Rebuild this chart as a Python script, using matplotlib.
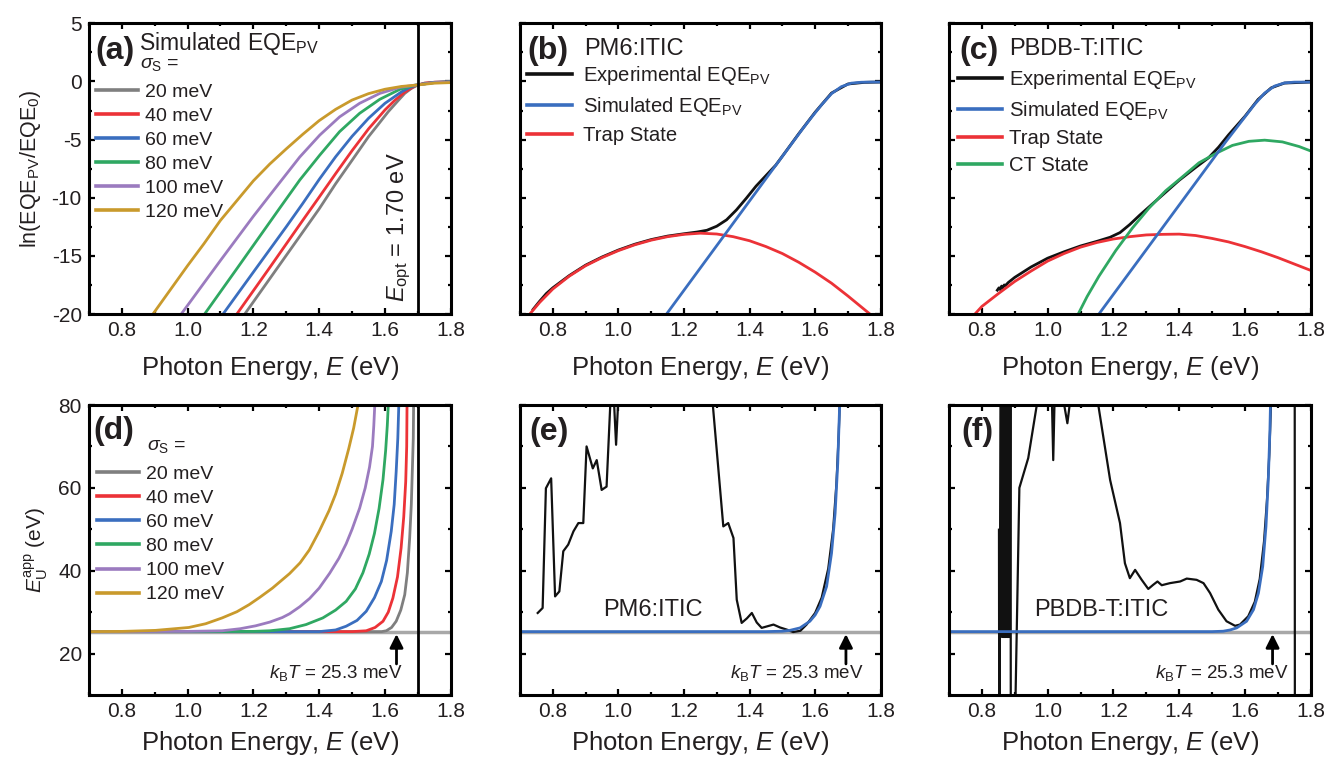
import matplotlib
matplotlib.use('Agg')
import matplotlib.pyplot as plt
from matplotlib.ticker import MultipleLocator, FormatStrFormatter
from matplotlib.lines import Line2D

# ---------------- data ----------------
sigma_labels = ['20 meV', '40 meV', '60 meV', '80 meV', '100 meV', '120 meV']

# panel (a): ln(EQE/EQE0) simulated curves
a20_E = [1.174, 1.25, 1.30, 1.35, 1.40, 1.45, 1.50, 1.55, 1.58, 1.61, 1.64, 1.66, 1.68, 1.70, 1.72, 1.75, 1.80]
a20_y = [-20, -16.96, -14.96, -12.96, -10.96, -8.8, -6.78, -4.75, -3.68, -2.6, -1.65, -1.03, -0.6, -0.3, -0.15, -0.07, -0.03]
a40_E = [1.150, 1.25, 1.35, 1.40, 1.45, 1.50, 1.55, 1.60, 1.63, 1.66, 1.69, 1.72, 1.75, 1.80]
a40_y = [-20, -16.0, -11.95, -9.95, -7.93, -5.95, -4.08, -2.45, -1.62, -0.92, -0.4, -0.15, -0.07, -0.03]
a60_E = [1.108, 1.20, 1.30, 1.35, 1.40, 1.45, 1.50, 1.55, 1.60, 1.65, 1.675, 1.70, 1.75, 1.80]
a60_y = [-20, -16.4, -12.5, -10.5, -8.43, -6.48, -4.72, -3.17, -1.88, -0.9, -0.51, -0.3, -0.08, -0.03]
a80_E = [1.052, 1.15, 1.25, 1.28, 1.341, 1.402, 1.462, 1.523, 1.584, 1.645, 1.693, 1.75, 1.80]
a80_y = [-20, -16.1, -12.1, -10.9, -8.48, -6.33, -4.32, -2.74, -1.54, -0.68, -0.31, -0.1, -0.04]
a100_E = [0.981, 1.10, 1.20, 1.28, 1.341, 1.402, 1.462, 1.523, 1.584, 1.645, 1.693, 1.75, 1.80]
a100_y = [-20, -15.4, -11.6, -8.7, -6.5, -4.61, -3.05, -1.88, -1.03, -0.51, -0.31, -0.1, -0.05]
a120_E = [0.895, 1.00, 1.05, 1.10, 1.15, 1.20, 1.25, 1.30, 1.35, 1.40, 1.45, 1.50, 1.55, 1.60, 1.65, 1.70, 1.75, 1.80]
a120_y = [-20, -15.85, -13.95, -11.95, -10.25, -8.55, -7.1, -5.8, -4.55, -3.37, -2.4, -1.6, -1.05, -0.67, -0.43, -0.3, -0.15, -0.1]
E_opt = 1.70

# panel (b): PM6:ITIC
b_exp_E = [0.74, 0.76, 0.78, 0.80, 0.85, 0.90, 0.95, 1.00, 1.05, 1.10, 1.15, 1.20, 1.24, 1.27, 1.30, 1.33, 1.36,
           1.39, 1.42, 1.45, 1.48, 1.51, 1.55, 1.60, 1.65, 1.70, 1.75, 1.80]
b_exp_y = [-19.6, -18.9, -18.25, -17.75, -16.7, -15.8, -15.1, -14.5, -14.0, -13.6, -13.3, -13.1, -12.95, -12.8,
           -12.45, -11.9, -11.05, -10.05, -9.0, -8.1, -7.2, -6.05, -4.5, -2.65, -1.0, -0.22, -0.08, -0.05]
b_sim_E = [1.147, 1.25, 1.35, 1.45, 1.53, 1.56, 1.59, 1.62, 1.65, 1.68, 1.71, 1.74, 1.77, 1.80]
b_sim_y = [-20, -16.04, -12.2, -8.36, -5.3, -4.15, -3.05, -2.0, -1.05, -0.45, -0.15, -0.07, -0.05, -0.05]
b_trap_E = [0.730, 0.76, 0.80, 0.85, 0.90, 0.95, 1.00, 1.05, 1.10, 1.15, 1.20, 1.25, 1.30, 1.35, 1.40, 1.45,
            1.50, 1.55, 1.60, 1.65, 1.70, 1.767]
b_trap_y = [-20, -19.0, -17.85, -16.75, -15.85, -15.15, -14.55, -14.05, -13.65, -13.35, -13.15, -13.05, -13.12,
            -13.35, -13.7, -14.2, -14.8, -15.55, -16.4, -17.35, -18.45, -20]

# panel (c): PBDB-T:ITIC
c_exp_E = [0.847, 0.852, 0.856, 0.86, 0.864, 0.868, 0.872, 0.88, 0.90, 0.95, 1.00, 1.05, 1.10, 1.15, 1.19, 1.22,
           1.25, 1.28, 1.31, 1.35, 1.40, 1.45, 1.49, 1.52, 1.55, 1.60, 1.64, 1.68, 1.72, 1.80]
c_exp_y = [-17.95, -17.75, -17.9, -17.6, -17.75, -17.5, -17.55, -17.3, -16.85, -15.95, -15.2, -14.65, -14.15,
           -13.75, -13.4, -13.0, -12.3, -11.5, -10.75, -9.75, -8.5, -7.4, -6.55, -5.65, -4.6, -3.0, -1.55, -0.55,
           -0.14, -0.05]
c_sim_E = [1.156, 1.25, 1.35, 1.45, 1.54, 1.57, 1.60, 1.63, 1.66, 1.69, 1.72, 1.75, 1.80]
c_sim_y = [-20, -16.39, -12.55, -8.71, -5.25, -4.15, -3.05, -1.95, -1.0, -0.4, -0.13, -0.06, -0.05]
c_trap_E = [0.779, 0.80, 0.85, 0.90, 0.95, 1.00, 1.05, 1.10, 1.15, 1.20, 1.25, 1.30, 1.35, 1.40, 1.45, 1.50,
            1.55, 1.60, 1.65, 1.70, 1.75, 1.80]
c_trap_y = [-20.0, -19.35, -18.25, -17.2, -16.3, -15.45, -14.8, -14.25, -13.85, -13.55, -13.35, -13.2, -13.15,
            -13.13, -13.25, -13.5, -13.8, -14.2, -14.65, -15.15, -15.7, -16.25]
c_ct_E = [1.093, 1.12, 1.156, 1.207, 1.258, 1.308, 1.359, 1.41, 1.46, 1.511, 1.562, 1.612, 1.66, 1.714, 1.765, 1.80]
c_ct_y = [-20, -18.5, -16.75, -14.55, -12.6, -10.9, -9.4, -8.2, -7.0, -6.2, -5.5, -5.15, -5.05, -5.2, -5.6, -5.98]

# panel (d): apparent Urbach energy of the simulated curves
kT = 25.3
d20_E = [0.70, 1.59, 1.604, 1.62, 1.634, 1.648, 1.660, 1.668, 1.675, 1.680, 1.683, 1.686, 1.687]
d20_y = [25.3, 25.3, 25.5, 26.3, 27.8, 30.5, 34.2, 39.5, 47.9, 56, 63.9, 72, 80]
d40_E = [0.70, 1.50, 1.543, 1.57, 1.594, 1.61, 1.624, 1.638, 1.649, 1.657, 1.663, 1.666, 1.667]
d40_y = [25.3, 25.3, 25.5, 26.3, 27.8, 30.0, 33.4, 38.5, 45.5, 53, 61.5, 70, 80]
d60_E = [0.70, 1.40, 1.45, 1.482, 1.515, 1.543, 1.568, 1.589, 1.605, 1.619, 1.628, 1.634, 1.639, 1.642]
d60_y = [25.3, 25.3, 25.7, 26.6, 28.0, 30.2, 33.5, 37.4, 42.5, 49.5, 56, 63.9, 72, 80]
d80_E = [0.70, 1.20, 1.25, 1.31, 1.36, 1.411, 1.45, 1.482, 1.51, 1.533, 1.552, 1.568, 1.582, 1.594, 1.602,
         1.607, 1.610]
d80_y = [25.3, 25.35, 25.5, 26.0, 27.0, 28.6, 30.5, 32.6, 35.6, 39.5, 44.0, 49.0, 55.0, 62, 69, 75, 80]
d100_E = [0.70, 1.00, 1.105, 1.16, 1.207, 1.25, 1.288, 1.31, 1.341, 1.371, 1.40, 1.432, 1.46, 1.482, 1.50, 1.523,
          1.54, 1.553, 1.562, 1.566, 1.569]
d100_y = [25.3, 25.35, 25.5, 26.0, 26.7, 27.6, 28.7, 29.6, 31.3, 33.3, 35.8, 39.4, 43.0, 46.5, 50, 55.1, 60, 65,
          70, 75, 80]
d120_E = [0.70, 0.80, 0.903, 1.004, 1.055, 1.105, 1.15, 1.187, 1.22, 1.258, 1.31, 1.342, 1.37, 1.40, 1.43, 1.45,
          1.47, 1.49, 1.505, 1.518]
d120_y = [25.3, 25.35, 25.6, 26.3, 27.2, 28.6, 30.1, 31.8, 33.6, 35.8, 39.3, 41.9, 45.0, 49.5, 54.5, 58.5, 63.5,
          69.5, 74.5, 80]
kT_arrow_E = [1.635, 1.694, 1.684]

# panel (e): PM6:ITIC apparent Urbach energy
e_exp_E = [0.754, 0.769, 0.779, 0.795, 0.807, 0.82, 0.832, 0.847, 0.863, 0.878, 0.893, 0.903, 0.922, 0.934,
           0.949, 0.964, 0.981, 0.993, 1.005, 1.05, 1.15, 1.275, 1.32, 1.335, 1.351, 1.361, 1.376, 1.392, 1.407,
           1.422, 1.437, 1.455, 1.473, 1.493, 1.513, 1.533, 1.555, 1.574, 1.60, 1.62, 1.64, 1.655, 1.665, 1.672,
           1.677]
e_exp_y = [29.8, 31.0, 59.9, 62.3, 33.8, 35.0, 44.7, 46.3, 49.5, 51.5, 51.5, 70.0, 64.7, 66.7, 59.5, 60.3, 90,
           70.4, 90, 130, 140, 92, 50.7, 51.5, 47.9, 33.0, 27.4, 28.5, 29.8, 27.5, 26.2, 26.6, 27.0, 26.3, 25.8,
           25.2, 25.5, 27.0, 29.8, 33.5, 40.5, 50, 61, 73, 85]
e_sim_E = [0.70, 1.45, 1.50, 1.523, 1.554, 1.584, 1.60, 1.615, 1.635, 1.65, 1.661, 1.669, 1.674, 1.677]
e_sim_y = [25.3, 25.3, 25.4, 25.6, 26.2, 27.8, 29.3, 31.4, 36.2, 44.2, 53.9, 65.9, 78, 85]

# panel (f): PBDB-T:ITIC apparent Urbach energy
f_exp_E = [0.852, 0.853, 0.859, 0.861, 0.863, 0.865, 0.867, 0.869, 0.871, 0.873, 0.875, 0.877, 0.879, 0.881,
           0.883, 0.885, 0.887, 0.888, 0.899, 0.914, 0.941, 0.967, 0.98, 1.005, 1.017, 1.029, 1.046, 1.060, 1.070,
           1.10, 1.12, 1.154, 1.19, 1.22, 1.235, 1.25, 1.266, 1.286, 1.306, 1.321, 1.334, 1.347, 1.372, 1.403,
           1.423, 1.453, 1.474, 1.494, 1.519, 1.544, 1.57, 1.585, 1.61, 1.63, 1.645, 1.658, 1.667, 1.674, 1.68,
           1.70, 1.751, 1.752]
f_exp_y = [49.9, -20, 150, 24, 150, 24, 150, 24, 150, 24, 150, 24, 150, 24, 150, 24, 150, -20, -5, 60, 67.2, 80,
           120, 110, 66.7, 110, 82, 75.6, 82, 130, 110, 80, 61.9, 51.5, 41.8, 38.2, 40.2, 37.8, 35.6, 36.6, 37.4,
           36.5, 37.0, 37.4, 38.1, 37.8, 37.0, 34.6, 30.6, 27.8, 26.7, 27.0, 29.0, 32.5, 38, 47, 57, 68, 82, 150,
           150, -20]
f_sim_E = [0.70, 1.50, 1.534, 1.555, 1.575, 1.605, 1.626, 1.641, 1.654, 1.664, 1.671, 1.676, 1.679]
f_sim_y = [25.3, 25.3, 25.4, 25.7, 26.2, 27.8, 30.6, 34.6, 41.0, 50.7, 61.9, 74, 85]

# ---------------- style ----------------
plt.rcParams['font.family'] = ['Liberation Sans', 'DejaVu Sans']
plt.rcParams['mathtext.fontset'] = 'custom'
plt.rcParams['mathtext.rm'] = 'Liberation Sans'
plt.rcParams['mathtext.it'] = 'Liberation Sans:italic'
plt.rcParams['mathtext.bf'] = 'Liberation Sans:bold'
plt.rcParams['mathtext.sf'] = 'Liberation Sans'
plt.rcParams['axes.unicode_minus'] = False

TXT = '#231f20'
C_GRAY = '#7f7f7f'
C_RED = '#ec3237'
C_BLUE = '#3a6ebf'
C_GREEN = '#2fa862'
C_PURPLE = '#9b7bbf'
C_GOLD = '#c99a2c'
C_BASE = '#a8a8a8'
C_BLACK = '#111111'
sig_colors = [C_GRAY, C_RED, C_BLUE, C_GREEN, C_PURPLE, C_GOLD]

fig = plt.figure(figsize=(13.28, 7.6), dpi=100)
W, H = 1328.0, 760.0
lefts = [88.8, 520.0, 949.0]
widths = [362.0, 360.7, 361.7]
row_top = [(23.3, 314.0), (405.0, 695.0)]
axes = []
for r in range(2):
    for c in range(3):
        t, b = row_top[r]
        ax = fig.add_axes([lefts[c] / W, 1 - b / H, widths[c] / W, (b - t) / H])
        axes.append(ax)
ax_a, ax_b, ax_c, ax_d, ax_e, ax_f = axes


def style(ax, ylim, ymaj, ymin, ylab=True, xlpad=10):
    ax.set_xlim(0.7, 1.8)
    ax.set_ylim(*ylim)
    ax.xaxis.set_major_locator(MultipleLocator(0.2))
    ax.xaxis.set_minor_locator(MultipleLocator(0.1))
    ax.xaxis.set_major_formatter(FormatStrFormatter('%.1f'))
    ax.yaxis.set_major_locator(MultipleLocator(ymaj))
    ax.yaxis.set_minor_locator(MultipleLocator(ymin))
    ax.tick_params(which='both', direction='in', top=True, right=True, width=1.6,
                   labelsize=15, pad=5, labelcolor=TXT, labelleft=ylab)
    ax.tick_params(which='major', length=4.5)
    ax.tick_params(which='minor', length=2.5)
    for s in ax.spines.values():
        s.set_linewidth(2.2)
    ax.set_xlabel('Photon Energy, $E$ (eV)', fontsize=18.5, color=TXT, labelpad=xlpad)


LW = 2.0
HLW = 2.6
for ax in (ax_a, ax_b, ax_c):
    style(ax, (-20, 5), 5, 2.5, ylab=(ax is ax_a), xlpad=10)
for ax in (ax_d, ax_e, ax_f):
    style(ax, (10, 80), 20, 10, ylab=(ax is ax_d), xlpad=5.5)

# ---- (a)
a_sets = [(a20_E, a20_y), (a40_E, a40_y), (a60_E, a60_y), (a80_E, a80_y), (a100_E, a100_y), (a120_E, a120_y)]
for (ex, ey), col in zip(a_sets, sig_colors):
    ax_a.plot(ex, ey, color=col, lw=LW, solid_capstyle='butt')
ax_a.axvline(E_opt, color='k', lw=2.0)
ax_a.set_ylabel('ln(EQE$_\\mathrm{PV}$/EQE$_0$)', fontsize=15.5, color=TXT, labelpad=6)
ax_a.text(1.645, -12.5, '$E_\\mathrm{opt}$ = 1.70 eV', rotation=90, ha='center', va='center',
          fontsize=17, color=TXT)
ax_a.text(0.017, 0.905, '(a)', transform=ax_a.transAxes, fontsize=23, fontweight='bold',
          ha='left', va='center', color=TXT)
ax_a.text(0.1395, 0.908, 'Simulated EQE$_\\mathrm{PV}$', transform=ax_a.transAxes, fontsize=16.5,
          ha='left', va='baseline', color=TXT)
ax_a.text(0.141, 0.845, '$\\sigma_\\mathrm{S}$ =', transform=ax_a.transAxes, fontsize=14,
          ha='left', va='baseline', color=TXT)
h = [Line2D([], [], color=c, lw=HLW) for c in sig_colors]
ax_a.legend(h, sigma_labels, loc='upper left', bbox_to_anchor=(0.021, 0.795), frameon=False, fontsize=14,
            handlelength=2.15, handletextpad=0.33, labelspacing=0.33, borderpad=0, borderaxespad=0,
            labelcolor=TXT)

# ---- (b)
ax_b.plot(b_exp_E, b_exp_y, color=C_BLACK, lw=LW)
ax_b.plot(b_trap_E, b_trap_y, color=C_RED, lw=LW)
ax_b.plot(b_sim_E, b_sim_y, color=C_BLUE, lw=LW)
ax_b.text(0.020, 0.906, '(b)', transform=ax_b.transAxes, fontsize=23, fontweight='bold',
          ha='left', va='center', color=TXT)
ax_b.text(0.1774, 0.891, 'PM6:ITIC', transform=ax_b.transAxes, fontsize=17,
          ha='left', va='baseline', color=TXT)
hb = [Line2D([], [], color=c, lw=HLW) for c in (C_BLACK, C_BLUE, C_RED)]
ax_b.legend(hb, ['Experimental EQE$_\\mathrm{PV}$', 'Simulated EQE$_\\mathrm{PV}$', 'Trap State'],
            loc='upper left', bbox_to_anchor=(0.020, 0.860), frameon=False, fontsize=14.6,
            handlelength=2.2, handletextpad=0.55, labelspacing=0.4, borderpad=0, borderaxespad=0,
            labelcolor=TXT)

# ---- (c)
ax_c.plot(c_exp_E, c_exp_y, color=C_BLACK, lw=LW)
ax_c.plot(c_trap_E, c_trap_y, color=C_RED, lw=LW)
ax_c.plot(c_ct_E, c_ct_y, color=C_GREEN, lw=LW)
ax_c.plot(c_sim_E, c_sim_y, color=C_BLUE, lw=LW)
ax_c.text(0.030, 0.906, '(c)', transform=ax_c.transAxes, fontsize=23, fontweight='bold',
          ha='left', va='center', color=TXT)
ax_c.text(0.166, 0.891, 'PBDB-T:ITIC', transform=ax_c.transAxes, fontsize=17,
          ha='left', va='baseline', color=TXT)
hc = [Line2D([], [], color=c, lw=HLW) for c in (C_BLACK, C_BLUE, C_RED, C_GREEN)]
ax_c.legend(hc, ['Experimental EQE$_\\mathrm{PV}$', 'Simulated EQE$_\\mathrm{PV}$', 'Trap State', 'CT State'],
            loc='upper left', bbox_to_anchor=(0.024, 0.846), frameon=False, fontsize=14.6,
            handlelength=2.2, handletextpad=0.31, labelspacing=0.38, borderpad=0, borderaxespad=0,
            labelcolor=TXT)

# ---- (d)
ax_d.plot([0.7, 1.8], [kT, kT], color=C_BASE, lw=2.5)
d_sets = [(d20_E, d20_y), (d40_E, d40_y), (d60_E, d60_y), (d80_E, d80_y), (d100_E, d100_y), (d120_E, d120_y)]
for (ex, ey), col in zip(d_sets, sig_colors):
    ax_d.plot(ex, ey, color=col, lw=LW)
ax_d.axvline(E_opt, color='k', lw=2.0)
ax_d.set_ylabel('$E_\\mathrm{U}^\\mathrm{app}$ (eV)', fontsize=15, color=TXT, labelpad=6)
ax_d.text(0.0125, 0.911, '(d)', transform=ax_d.transAxes, fontsize=23, fontweight='bold',
          ha='left', va='center', color=TXT)
ax_d.text(0.16, 0.845, '$\\sigma_\\mathrm{S}$ =', transform=ax_d.transAxes, fontsize=14,
          ha='left', va='baseline', color=TXT)
ax_d.legend(h, sigma_labels, loc='upper left', bbox_to_anchor=(0.0235, 0.791), frameon=False, fontsize=14,
            handlelength=2.15, handletextpad=0.33, labelspacing=0.33, borderpad=0, borderaxespad=0,
            labelcolor=TXT)

# ---- (e)
ax_e.plot([0.7, 1.8], [kT, kT], color=C_BASE, lw=2.5)
ax_e.plot(e_exp_E, e_exp_y, color=C_BLACK, lw=1.6)
ax_e.plot(e_sim_E, e_sim_y, color=C_BLUE, lw=LW)
ax_e.text(0.026, 0.906, '(e)', transform=ax_e.transAxes, fontsize=23, fontweight='bold',
          ha='left', va='center', color=TXT)
ax_e.text(1.104, 30.4, 'PM6:ITIC', ha='center', va='center', fontsize=17, color=TXT)

# ---- (f)
ax_f.plot([0.7, 1.8], [kT, kT], color=C_BASE, lw=2.5)
ax_f.plot(f_exp_E, f_exp_y, color=C_BLACK, lw=1.6)
ax_f.plot(f_sim_E, f_sim_y, color=C_BLUE, lw=LW)
ax_f.text(0.035, 0.906, '(f)', transform=ax_f.transAxes, fontsize=23, fontweight='bold',
          ha='left', va='center', color=TXT)
ax_f.text(1.162, 30.4, 'PBDB-T:ITIC', ha='center', va='center', fontsize=17, color=TXT)

# k_B T arrows and labels
text_right = [1.655, 1.747, 1.732]
for ax, xa, xr in zip((ax_d, ax_e, ax_f), kT_arrow_E, text_right):
    ax.annotate('', xy=(xa, kT - 0.6), xytext=(xa, 17.5),
                arrowprops=dict(arrowstyle='-|>', color='k', lw=2.0, mutation_scale=20,
                                shrinkA=0, shrinkB=0))
    ax.text(xr, 14.0, '$k_\\mathrm{B}T$ = 25.3 meV', ha='right', va='baseline', fontsize=13.5, color=TXT)

fig.savefig('out.png', dpi=100)
